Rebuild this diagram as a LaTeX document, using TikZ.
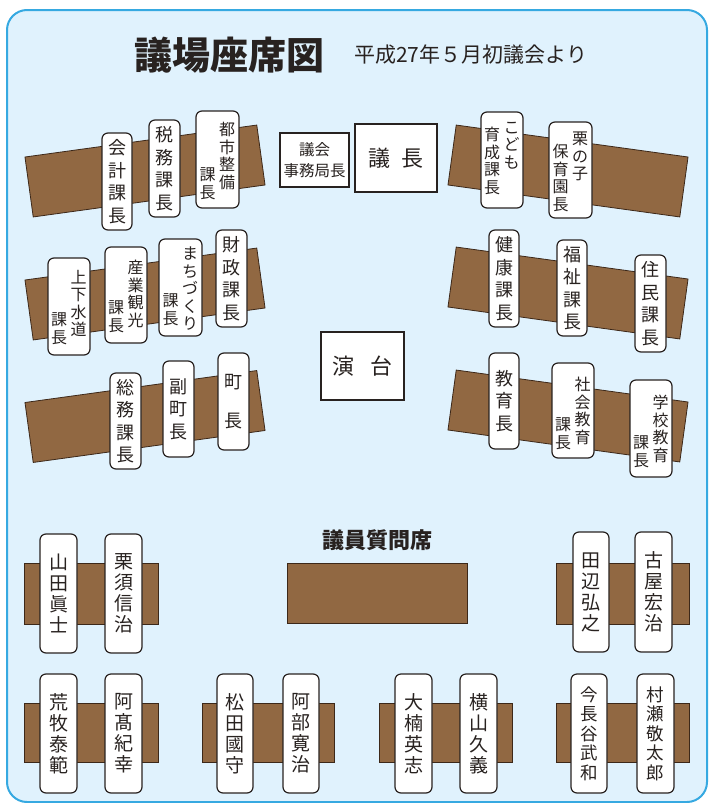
\documentclass[tikz,border=0pt]{standalone}
\usepackage{fontspec}
\setmainfont{Noto Sans CJK JP}
\definecolor{bgblue}{RGB}{224,242,253}
\definecolor{frameblue}{RGB}{54,169,225}
\definecolor{deskbrown}{RGB}{145,104,66}
\definecolor{deskline}{RGB}{60,40,25}
\definecolor{ink}{RGB}{40,34,32}
\tikzset{
  desk/.style={draw=deskline, fill=deskbrown, line width=0.8pt, inner sep=0pt},
  plate/.style={draw=ink, fill=white, line width=1.2pt, rounded corners=6pt, inner sep=0pt},
  vtext/.style={inner sep=0pt, align=center, text=ink, font=\fontsize{18}{22.5}\selectfont},
  vsmall/.style={inner sep=0pt, align=center, text=ink, font=\fontsize{16}{17.5}\selectfont},
  vname/.style={inner sep=0pt, align=center, text=ink, font=\fontsize{19}{21}\selectfont},
  vname5/.style={inner sep=0pt, align=center, text=ink, font=\fontsize{17.5}{19.5}\selectfont},
  sqbox/.style={draw=ink, fill=white, line width=1.5pt, inner sep=0pt, text=ink, align=center},
}
\newcommand\plateone[7]{%
  \node[plate, minimum width={#5-#3}, minimum height={#6-#4}] (#2) at ({(#3+#5)/2},{(#4+#6)/2}) {};
  \node[#1] (#2t) at (#2.center) {#7};}
\newcommand\platetwo[9]{%
  \node[plate, minimum width={#4-#2}, minimum height={#5-#3}] (#1) at ({(#2+#4)/2},{(#3+#5)/2}) {};
  \node[vsmall, anchor=north] (#1r) at ({(#2+#4)/2+9.5},#8) {#6};
  \node[vsmall, anchor=south] (#1l) at ({(#2+#4)/2-10},#9) {#7};}
\newcommand\deskrect[5]{%
  \node[desk, minimum width={#4-#2}, minimum height={#5-#3}] (#1) at ({(#2+#4)/2},{(#3+#5)/2}) {};}
\begin{document}
\begin{tikzpicture}[x=1pt,y=-1pt]
\useasboundingbox (0,0) rectangle (709,803);
\draw[line width=2pt, draw=frameblue, fill=bgblue, rounded corners=20pt] (7,10) rectangle (707,802);

% title
\node[inner sep=0pt, text=ink, font=\fontsize{38}{38}\selectfont\bfseries] (title) at (229,55) {議場座席図};
\node[inner sep=0pt, anchor=west, text=ink, font=\fontsize{21}{21}\selectfont] (subtitle) at (354,55) {平成27年５月初議会より};

% executive desks
\node[desk, rotate=7.85, minimum width=234, minimum height=60.5] (deskL1) at (145,171) {};
\node[desk, rotate=7.85, minimum width=234, minimum height=60.5] (deskL2) at (145,294) {};
\node[desk, rotate=7.85, minimum width=234, minimum height=60.5] (deskL3) at (145,416.5) {};
\node[desk, rotate=-7.85, minimum width=234, minimum height=60.5] (deskR1) at (568,171) {};
\node[desk, rotate=-7.85, minimum width=234, minimum height=60.5] (deskR2) at (568,293) {};
\node[desk, rotate=-7.85, minimum width=234, minimum height=60.5] (deskR3) at (568,416) {};

% center boxes
\node[sqbox, minimum width=69, minimum height=54, font=\fontsize{15.5}{20.5}\selectfont] (jimu) at (314.5,160) {議会\\事務局長};
\node[sqbox, minimum width=82, minimum height=68, font=\fontsize{22}{22}\selectfont] (gicho) at (396,158) {議\hspace{12pt}長};
\node[sqbox, minimum width=83, minimum height=68, font=\fontsize{22}{22}\selectfont] (endai) at (362.5,366) {演\hspace{17pt}台};

% left top row
\plateone{vtext}{kaikei}{102}{133}{132}{230}{会\\計\\課\\長}
\plateone{vtext}{zeimu}{149}{120}{180}{217}{税\\務\\課\\長}
\platetwo{toshi}{196}{111}{239}{208}{都\\市\\整\\備}{課\\長}{122}{200}
% right top row
\platetwo{kodomo}{481}{112}{523}{208}{こ\\ど\\も}{育\\成\\課\\長}{122}{195}
\platetwo{kuri}{549}{122}{592}{218}{栗\\の\\子}{保\\育\\園\\長}{132}{212}
% left middle row
\platetwo{jouge}{48}{258}{90}{355}{上\\下\\水\\道}{課\\長}{270}{345}
\platetwo{sangyo}{105}{247}{147}{343}{産\\業\\観\\光}{課\\長}{260}{333}
\platetwo{machi}{159}{239}{202}{336}{ま\\ち\\づ\\く\\り}{課\\長}{247}{326}
\plateone{vtext}{zaisei}{216}{230}{247}{327}{財\\政\\課\\長}
% right middle row
\plateone{vtext}{kenko}{489}{230}{519}{327}{健\\康\\課\\長}
\plateone{vtext}{fukushi}{557}{240}{587}{336}{福\\祉\\課\\長}
\plateone{vtext}{jumin}{635}{255}{666}{352}{住\\民\\課\\長}
% left bottom row
\plateone{vtext}{somu}{110}{373}{141}{469}{総\\務\\課\\長}
\plateone{vtext}{fukucho}{163}{361}{194}{457}{副\\町\\長}
\plateone{vtext}{cho}{218}{353}{249}{450}{町\\[17pt]長}
% right bottom row
\plateone{vtext}{kyoiku}{489}{353}{519}{449}{教\\育\\長}
\platetwo{shakai}{552}{363}{594}{458}{社\\会\\教\\育}{課\\長}{377}{450}
\platetwo{gakko}{630}{380}{672}{477}{学\\校\\教\\育}{課\\長}{395}{468}

% members' section
\node[inner sep=0pt, text=ink, font=\fontsize{22}{22}\selectfont\bfseries] (shitsumon) at (377,540) {議員質問席};
\deskrect{mdeskL}{24}{563}{158}{624}
\deskrect{mdeskC}{287}{563}{467}{623}
\deskrect{mdeskR}{556}{563}{689}{624}
\deskrect{bdesk1}{24}{703}{158}{762}
\deskrect{bdesk2}{202}{703}{334}{762}
\deskrect{bdesk3}{379}{703}{512}{762}
\deskrect{bdesk4}{556}{703}{689}{762}

\plateone{vname}{yamada}{40}{534}{77}{653}{山\\田\\眞\\士}
\plateone{vname}{kurusu}{105}{534}{142}{653}{栗\\須\\信\\治}
\plateone{vname}{tanabe}{573}{532}{609}{652}{田\\辺\\弘\\之}
\plateone{vname}{furuya}{635}{532}{672}{652}{古\\屋\\宏\\治}
\plateone{vname}{aramaki}{40}{674}{77}{793}{荒\\牧\\泰\\範}
\plateone{vname}{atakano}{105}{674}{142}{793}{阿\\髙\\紀\\幸}
\plateone{vname}{matsuda}{217}{674}{253}{793}{松\\田\\國\\守}
\plateone{vname}{abe}{283}{674}{319}{793}{阿\\部\\寛\\治}
\plateone{vname}{ohkusu}{395}{674}{432}{793}{大\\楠\\英\\志}
\plateone{vname}{yokoyama}{460}{674}{497}{793}{横\\山\\久\\義}
\plateone{vname5}{imahase}{571}{674}{607}{793}{今\\長\\谷\\武\\和}
\plateone{vname5}{murase}{637}{674}{674}{793}{村\\瀬\\敬\\太\\郎}
\end{tikzpicture}
\end{document}
